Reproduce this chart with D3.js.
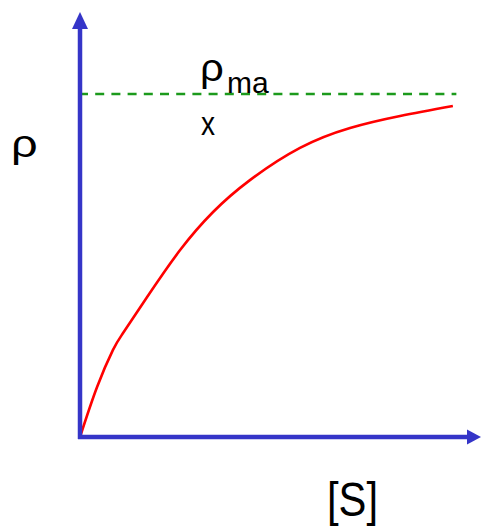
<!DOCTYPE html>
<html>
<head>
<meta charset="utf-8">
<script src="https://cdn.jsdelivr.net/npm/d3@7"></script>
<style>
  html, body { margin: 0; padding: 0; background: #fff; }
  svg { display: block; }
  text { font-family: "Liberation Sans", Arial, sans-serif; fill: #000; }
</style>
</head>
<body>
<script>
// Substrate concentration [S] (arbitrary units) and reaction rate ρ (fraction of ρmax)
const substrate = [0, 0.44, 0.85, 1.11, 1.73, 2.58, 3.43, 4.38, 5.67, 6.96, 8.25, 9.61];
const rate      = [0, 0.146, 0.254, 0.303, 0.408, 0.545, 0.656, 0.749, 0.843, 0.901, 0.936, 0.965];
const rateMax = 1;          // asymptote ρmax
const dashedEnd = 9.70;     // where the ρmax guide line stops

const W = 481, H = 526;
const svg = d3.select("body").append("svg").attr("width", W).attr("height", H);

const x = d3.scaleLinear().domain([0, 10]).range([80, 468]);
const y = d3.scaleLinear().domain([0, 1]).range([437, 94]);

const axisColor = "#3535c8";

// ρmax guide
svg.append("line")
  .attr("x1", x(0) - 1).attr("x2", x(dashedEnd))
  .attr("y1", y(rateMax)).attr("y2", y(rateMax))
  .attr("stroke", "#1c9a1c").attr("stroke-width", 2.5)
  .attr("stroke-dasharray", "9,7.2");

// saturation curve
const line = d3.line()
  .x((d, i) => x(substrate[i]))
  .y(d => y(d))
  .curve(d3.curveNatural);
svg.append("path")
  .attr("d", line(rate))
  .attr("fill", "none")
  .attr("stroke", "#ff0000")
  .attr("stroke-width", 2.6);

// axes with arrowheads
svg.append("line")
  .attr("x1", x(0)).attr("x2", x(0))
  .attr("y1", y(0) + 2).attr("y2", 27)
  .attr("stroke", axisColor).attr("stroke-width", 4.5);
svg.append("path")
  .attr("d", `M${x(0)},12 L${x(0) + 8},29 L${x(0) - 8},29 Z`)
  .attr("fill", axisColor);

svg.append("line")
  .attr("x1", x(0) - 2).attr("x2", 470)
  .attr("y1", y(0)).attr("y2", y(0))
  .attr("stroke", axisColor).attr("stroke-width", 4.5);
svg.append("path")
  .attr("d", `M481,${y(0)} L467,${y(0) - 7.5} L467,${y(0) + 7.5} Z`)
  .attr("fill", axisColor);

// labels
function label(txt, px, py, size, sx) {
  svg.append("text")
    .attr("transform", `translate(${px},${py}) scale(${sx},1)`)
    .attr("font-size", size)
    .text(txt);
}
label("ρ", 11, 157, 39, 1.2);
label("ρ", 200, 81, 38, 1.1);
label("ma", 227, 93, 30, 1);
label("x", 201, 135, 33, 0.85);
label("[S]", 327, 516, 48, 0.87);
</script>
</body>
</html>
